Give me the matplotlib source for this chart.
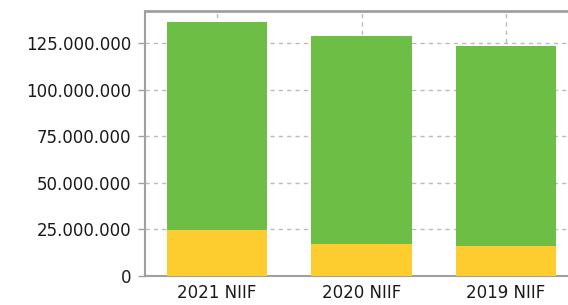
import matplotlib
matplotlib.use("Agg")
import matplotlib.pyplot as plt
from matplotlib.ticker import FuncFormatter, FixedLocator

categories = ["2021 NIIF", "2020 NIIF", "2019 NIIF"]
yellow_vals = [24.4e6, 16.9e6, 15.8e6]
green_vals = [112.1e6, 112.0e6, 107.7e6]
yticks = [0, 25e6, 50e6, 75e6, 100e6, 125e6]

plt.rcParams["font.family"] = ["DejaVu Sans"]

fig = plt.figure(figsize=(5.68, 3.05), dpi=100)
ax = fig.add_axes([145/568, 29.3/305, 433/568, 265/305])

x = list(range(len(categories)))
ax.bar(x, yellow_vals, width=0.693, color="#FDCD2F", zorder=3)
ax.bar(x, green_vals, width=0.693, bottom=yellow_vals, color="#6CBE44", zorder=3)

ax.set_xlim(-0.5, 2.5)
ax.set_ylim(0, 142.5e6)
ax.yaxis.set_major_locator(FixedLocator(yticks))
ax.yaxis.set_major_formatter(FuncFormatter(lambda v, p: f"{int(v):,}".replace(",", ".")))
ax.set_xticks(x)
ax.set_xticklabels(categories)

ax.grid(True, color="#BBBBBB", linestyle=(0, (3, 3)), linewidth=1, zorder=0)
ax.set_axisbelow(True)

ax.spines["right"].set_visible(False)
ax.spines["top"].set_color("#A0A0A0")
ax.spines["top"].set_linewidth(2)
ax.spines["left"].set_color("#A0A0A0")
ax.spines["left"].set_linewidth(1.5)
ax.spines["bottom"].set_color("#A0A0A0")
ax.spines["bottom"].set_linewidth(1.5)

ax.tick_params(axis="y", length=5, width=1, color="#A0A0A0", labelsize=12, pad=5, labelcolor="#1A1A1A")
ax.tick_params(axis="x", length=0, labelsize=12, pad=6, labelcolor="#1A1A1A")

fig.savefig("out.png", dpi=100)
